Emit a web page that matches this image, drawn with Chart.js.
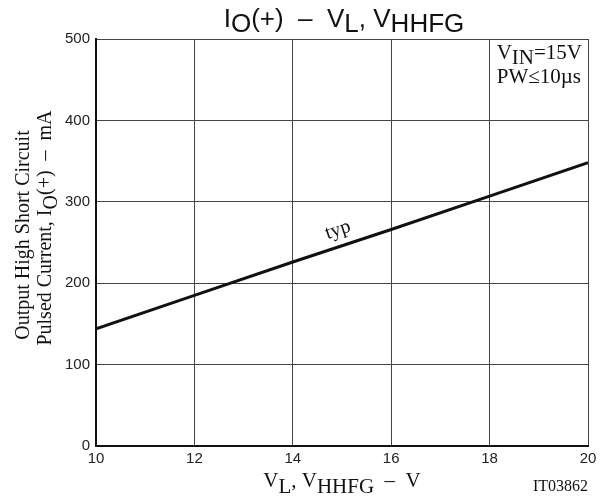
<!DOCTYPE html>
<html>
<head>
<meta charset="utf-8">
<script src="https://cdn.jsdelivr.net/npm/chart.js@4/dist/chart.umd.min.js"></script>
<style>
html,body{margin:0;padding:0;background:#fff;}
#wrap{width:607px;height:502px;position:relative;}
</style>
</head>
<body>
<div id="wrap"><canvas id="c" width="607" height="502"></canvas></div>
<script>
// Data
const xValues = [10, 12, 14, 16, 18, 20];           // V_L, V_HHFG (V)
const typCurrent = [144, 185, 226, 266, 307, 348];  // I_O(+) typ (mA)
const xTicks = [10, 12, 14, 16, 18, 20];
const yTicks = [0, 100, 200, 300, 400, 500];
const conditions = ["V|IN|=15V", "PW≤10µs"];
const curveLabel = "typ";
const drawingId = "IT03862";

// draw text made of segments: "main|sub|main|sub..."
function drawRich(ctx, parts, x, y, size, family, subScale, subDrop, align) {
  const segs = parts.map((t, i) => ({t, sub: i % 2 === 1}));
  let total = 0;
  segs.forEach(s => {
    ctx.font = (s.sub ? size * subScale : size) + "px " + family;
    s.w = ctx.measureText(s.t).width; total += s.w;
  });
  let cx = align === "center" ? x - total / 2 : (align === "right" ? x - total : x);
  ctx.textAlign = "left";
  ctx.textBaseline = "alphabetic";
  segs.forEach(s => {
    ctx.font = (s.sub ? size * subScale : size) + "px " + family;
    ctx.fillText(s.t, cx, s.sub ? y + subDrop : y);
    cx += s.w;
  });
}

const textPlugin = {
  id: "texts",
  afterDraw(chart) {
    const ctx = chart.ctx;
    const xs = chart.scales.x, ys = chart.scales.y;
    ctx.save();
    ctx.fillStyle = "#111";
    const sans = "'Liberation Sans', Arial, sans-serif";
    const serif = "'Liberation Serif', 'Times New Roman', serif";
    // title
    drawRich(ctx, ["I", "O", "(+)  \u2013  V", "L", ", V", "HHFG"], 344, 27, 26, sans, 1, 5, "center");
    // x title
    drawRich(ctx, ["V", "L", ", V", "HHFG", "  \u2013  V"], 342, 487, 21, serif, 1, 6, "center");
    // drawing id
    ctx.font = "16px " + serif;
    ctx.textAlign = "right";
    ctx.fillText(drawingId, 588, 491);
    // y title (rotated)
    ctx.save();
    ctx.translate(29, 235);
    ctx.rotate(-Math.PI / 2);
    drawRich(ctx, ["Output High Short Circuit"], 0, 0, 20, serif, 1, 0, "center");
    ctx.restore();
    ctx.save();
    ctx.translate(51, 228);
    ctx.rotate(-Math.PI / 2);
    drawRich(ctx, ["Pulsed Current, I", "O", "(+)  \u2013  mA"], 0, 0, 20, serif, 1, 6, "center");
    ctx.restore();
    // conditions box
    drawRich(ctx, conditions[0].split("|"), 582, 59, 21, serif, 1, 5, "right");
    drawRich(ctx, [conditions[1]], 581, 83, 21, serif, 1, 0, "right");
    // curve label
    const lx = xs.getPixelForValue(14.95), ly = ys.getPixelForValue(259);
    const x0 = xs.getPixelForValue(xValues[0]), x1 = xs.getPixelForValue(xValues[xValues.length-1]);
    const y0 = ys.getPixelForValue(typCurrent[0]), y1 = ys.getPixelForValue(typCurrent[typCurrent.length-1]);
    ctx.save();
    ctx.translate(lx, ly);
    ctx.rotate(Math.atan2(y1 - y0, x1 - x0));
    ctx.font = "20px " + serif;
    ctx.textAlign = "center";
    ctx.fillText(curveLabel, 0, 0);
    ctx.restore();
    ctx.restore();
  }
};

new Chart(document.getElementById("c"), {
  type: "line",
  data: {
    datasets: [{
      data: xValues.map((x, i) => ({x, y: typCurrent[i]})),
      borderColor: "#111",
      borderWidth: 3,
      pointRadius: 0,
      tension: 0,
      fill: false
    }]
  },
  options: {
    responsive: false,
    animation: false,
    devicePixelRatio: 1,
    layout: {padding: {top: 39, right: 19, left: 0, bottom: 0}},
    plugins: {legend: {display: false}, title: {display: false}, tooltip: {enabled: false}},
    scales: {
      x: {
        type: "linear", min: 10, max: 20,
        afterBuildTicks: s => { s.ticks = xTicks.map(v => ({value: v})); },
        afterFit: s => { s.height = 56; },
        grid: {color: "#444", lineWidth: 1, drawTicks: false},
        border: {color: "#111", width: 2},
        ticks: {color: "#222", font: {family: "'Liberation Sans', Arial, sans-serif", size: 15}, padding: 4, maxRotation: 0}
      },
      y: {
        type: "linear", min: 0, max: 500,
        afterBuildTicks: s => { s.ticks = yTicks.map(v => ({value: v})); },
        afterFit: s => { s.width = 96; },
        grid: {color: "#444", lineWidth: 1, drawTicks: false},
        border: {color: "#111", width: 2},
        ticks: {color: "#222", font: {family: "'Liberation Sans', Arial, sans-serif", size: 15}, padding: 6}
      }
    }
  },
  plugins: [textPlugin]
});
</script>
</body>
</html>
